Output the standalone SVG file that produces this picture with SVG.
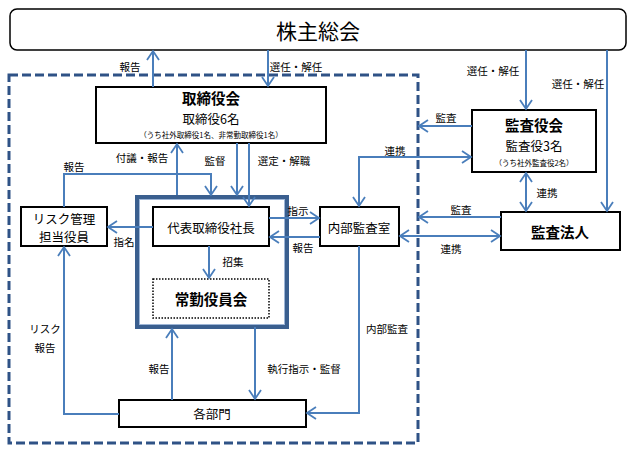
<svg xmlns="http://www.w3.org/2000/svg" width="634" height="452" viewBox="0 0 634 452">
<defs>
<marker id="ah" markerWidth="12" markerHeight="14" refX="10" refY="7" orient="auto-start-reverse" markerUnits="userSpaceOnUse">
<path d="M1,1 L10,7 L1,13" fill="none" stroke="#4A7EBB" stroke-width="1.8"/>
</marker>
<style>
text{font-family:"Noto Sans CJK JP","Noto Sans",sans-serif;fill:#000;text-anchor:middle;dominant-baseline:central}
.box{fill:#fff;stroke:#000;stroke-width:2}
.c{fill:none;stroke:#4A7EBB;stroke-width:2}
.a{marker-end:url(#ah)}
.b{marker-start:url(#ah);marker-end:url(#ah)}
.lbl{font-size:10.5px}
.nt{font-size:12.5px}
.bt{font-size:14.5px;font-weight:bold}
.sm{font-size:7.5px}
</style>
</defs>
<rect x="0" y="0" width="634" height="452" fill="#fff"/>
<g id="company">
<rect x="9" y="75" width="409" height="368" fill="none" stroke="#2F5286" stroke-width="3" stroke-dasharray="9,4"/>
</g>
<g id="shareholders">
<rect x="10" y="9" width="616" height="41" rx="7" fill="#fff" stroke="#000" stroke-width="1.5"/>
<text x="318" y="30" font-size="21">株主総会</text>
</g>
<g id="board">
<rect class="box" x="96" y="87" width="230" height="56"/>
<text class="bt" x="211" y="97">取締役会</text>
<text class="nt" x="211" y="118">取締役6名</text>
<text class="sm" x="211" y="134">（うち社外取締役1名、非常勤取締役1名）</text>
</g>
<g id="exec">
<rect x="137" y="197" width="150" height="130" fill="#fff" stroke="#3A5F8F" stroke-width="4"/>
<rect x="139.5" y="199.5" width="145" height="125" fill="none" stroke="#9DB5D6" stroke-width="1"/>
</g>
<g id="president">
<rect class="box" x="153" y="207" width="116" height="39"/>
<text class="nt" x="211" y="227">代表取締役社長</text>
</g>
<g id="jokin">
<rect x="153" y="279" width="116" height="39" fill="#fff" stroke="#000" stroke-width="1.5" stroke-dasharray="1.5,1.5"/>
<text class="bt" x="211" y="298">常勤役員会</text>
</g>
<g id="risk">
<rect class="box" x="21" y="207" width="86" height="39"/>
<text class="nt" x="64" y="218">リスク管理</text>
<text class="nt" x="64" y="236">担当役員</text>
</g>
<g id="audit-office">
<rect class="box" x="320" y="207" width="79" height="39"/>
<text class="nt" x="359" y="227">内部監査室</text>
</g>
<g id="auditors">
<rect class="box" x="472" y="110" width="124" height="62"/>
<text class="bt" x="534" y="124">監査役会</text>
<text class="nt" x="534" y="145">監査役3名</text>
<text class="sm" x="534" y="162">（うち社外監査役2名）</text>
</g>
<g id="accountant">
<rect class="box" x="501" y="212" width="119" height="38"/>
<text class="bt" x="560" y="231">監査法人</text>
</g>
<g id="depts">
<rect class="box" x="119" y="400" width="187" height="27"/>
<text class="nt" x="212" y="413">各部門</text>
</g>
<g id="connectors">
<line class="c a" x1="153" y1="87" x2="153" y2="51"/>
<line class="c a" x1="268" y1="50" x2="268" y2="86"/>
<line class="c a" x1="526" y1="50" x2="526" y2="109"/>
<line class="c a" x1="607" y1="50" x2="607" y2="211"/>
<line class="c a" x1="177" y1="195" x2="177" y2="144"/>
<line class="c a" x1="237" y1="143" x2="237" y2="195"/>
<line class="c a" x1="249" y1="143" x2="249" y2="206"/>
<polyline class="c a" points="64,207 64,174 211,174 211,195"/>
<line class="c a" x1="209" y1="246" x2="209" y2="278"/>
<line class="c a" x1="153" y1="227" x2="108" y2="227"/>
<line class="c a" x1="269" y1="218" x2="319" y2="218"/>
<line class="c a" x1="320" y1="237" x2="270" y2="237"/>
<line class="c a" x1="472" y1="126" x2="419" y2="126"/>
<polyline class="c b" points="471,157 359,157 359,206"/>
<line class="c b" x1="526" y1="173" x2="526" y2="211"/>
<line class="c a" x1="501" y1="217" x2="419" y2="217"/>
<line class="c b" x1="400" y1="236" x2="500" y2="236"/>
<polyline class="c a" points="359,246 359,413 307,413"/>
<line class="c a" x1="172" y1="400" x2="172" y2="329"/>
<line class="c a" x1="255" y1="327" x2="255" y2="399"/>
<polyline class="c a" points="119,414 64,414 64,247"/>
</g>
<g id="labels">
<text class="lbl" x="130" y="66">報告</text>
<text class="lbl" x="296" y="66">選任・解任</text>
<text class="lbl" x="493" y="70">選任・解任</text>
<text class="lbl" x="578" y="83">選任・解任</text>
<text class="lbl" x="142" y="157">付議・報告</text>
<text class="lbl" x="215" y="160">監督</text>
<text class="lbl" x="284" y="160">選定・解職</text>
<text class="lbl" x="74" y="166">報告</text>
<text class="lbl" x="233" y="261">招集</text>
<text class="lbl" x="124" y="241">指名</text>
<text class="lbl" x="298" y="210">指示</text>
<text class="lbl" x="303" y="247">報告</text>
<text class="lbl" x="446" y="117">監査</text>
<text class="lbl" x="395" y="150">連携</text>
<text class="lbl" x="547" y="192">連携</text>
<text class="lbl" x="461" y="209">監査</text>
<text class="lbl" x="451" y="248">連携</text>
<text class="lbl" x="387" y="328">内部監査</text>
<text class="lbl" x="159" y="368">報告</text>
<text class="lbl" x="304" y="368">執行指示・監督</text>
<text class="lbl" x="45" y="328">リスク</text>
<text class="lbl" x="45" y="347">報告</text>
</g>
</svg>
